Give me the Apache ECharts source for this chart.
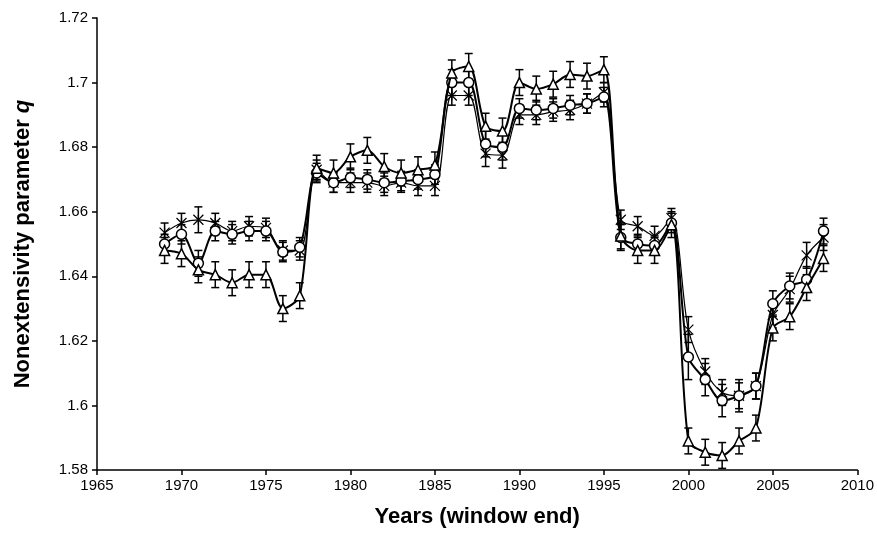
<!DOCTYPE html>
<html>
<head>
<meta charset="utf-8">
<script src="https://cdn.jsdelivr.net/npm/echarts@6/dist/echarts.min.js"></script>
<style>
  html, body { margin: 0; padding: 0; background: #fff; }
  #chart { width: 877px; height: 535px; }
</style>
</head>
<body>
<div id="chart"></div>
<script>
// window end years
const years = [1969, 1970, 1971, 1972, 1973, 1974, 1975, 1976, 1977, 1978,
  1979, 1980, 1981, 1982, 1983, 1984, 1985, 1986, 1987, 1988,
  1989, 1990, 1991, 1992, 1993, 1994, 1995, 1996, 1997, 1998,
  1999, 2000, 2001, 2002, 2003, 2004, 2005, 2006, 2007, 2008];

// circles
const qCircle = [1.650, 1.653, 1.644, 1.654, 1.653, 1.654, 1.654, 1.6475, 1.649, 1.672,
  1.669, 1.6705, 1.670, 1.669, 1.6695, 1.670, 1.6715, 1.700, 1.700, 1.681,
  1.680, 1.692, 1.6915, 1.692, 1.693, 1.6935, 1.6955, 1.652, 1.650, 1.6495,
  1.6565, 1.615, 1.608, 1.6015, 1.603, 1.606, 1.6315, 1.637, 1.639, 1.654];
const errCircle = [0.003, 0.003, 0.004, 0.003, 0.003, 0.003, 0.003, 0.003, 0.003, 0.003,
  0.003, 0.003, 0.003, 0.003, 0.003, 0.003, 0.003, 0.004, 0.004, 0.004,
  0.004, 0.003, 0.003, 0.003, 0.003, 0.003, 0.003, 0.004, 0.003, 0.003,
  0.003, 0.007, 0.005, 0.005, 0.005, 0.004, 0.004, 0.004, 0.004, 0.004];

// triangles
const qTriangle = [1.648, 1.647, 1.642, 1.6405, 1.638, 1.6405, 1.6405, 1.630, 1.634, 1.6735,
  1.672, 1.677, 1.679, 1.674, 1.672, 1.673, 1.6745, 1.703, 1.705, 1.6865,
  1.685, 1.700, 1.698, 1.6995, 1.7025, 1.702, 1.704, 1.6525, 1.648, 1.648,
  1.656, 1.589, 1.5855, 1.5845, 1.589, 1.593, 1.624, 1.6275, 1.6365, 1.6455];
const errTriangle = [0.004, 0.004, 0.004, 0.004, 0.004, 0.004, 0.004, 0.004, 0.004, 0.004,
  0.004, 0.004, 0.004, 0.004, 0.004, 0.004, 0.004, 0.004, 0.004, 0.004,
  0.004, 0.004, 0.004, 0.004, 0.004, 0.004, 0.004, 0.004, 0.004, 0.004,
  0.004, 0.004, 0.004, 0.004, 0.004, 0.004, 0.004, 0.004, 0.004, 0.004];

// crosses
const qCross = [1.6535, 1.6565, 1.6575, 1.6565, 1.654, 1.6555, 1.655, 1.648, 1.648, 1.673,
  1.669, 1.669, 1.669, 1.668, 1.669, 1.668, 1.668, 1.696, 1.696, 1.678,
  1.6775, 1.690, 1.690, 1.691, 1.6915, 1.6935, 1.697, 1.6575, 1.6555, 1.6525,
  1.658, 1.6235, 1.6105, 1.604, 1.603, 1.606, 1.628, 1.636, 1.6465, 1.652];
const errCross = [0.003, 0.003, 0.004, 0.003, 0.003, 0.003, 0.003, 0.003, 0.003, 0.003,
  0.003, 0.003, 0.003, 0.003, 0.003, 0.003, 0.003, 0.003, 0.003, 0.004,
  0.004, 0.003, 0.003, 0.003, 0.003, 0.003, 0.003, 0.003, 0.003, 0.003,
  0.003, 0.004, 0.004, 0.004, 0.004, 0.004, 0.004, 0.004, 0.004, 0.004];

const crossPath = 'path://M0,0L10,10M10,0L0,10M5,0L5,10';

function pairs(vals) {
  return years.map((y, i) => [y, vals[i]]);
}
function bars(vals, errs) {
  return years.map((y, i) => [y, vals[i] - errs[i], vals[i] + errs[i]]);
}

function errorRender(params, api) {
  const lo = api.coord([api.value(0), api.value(1)]);
  const hi = api.coord([api.value(0), api.value(2)]);
  const cap = 4;
  const st = { stroke: '#000', lineWidth: 1.5 };
  return {
    type: 'group',
    children: [
      { type: 'line', shape: { x1: lo[0], y1: lo[1], x2: hi[0], y2: hi[1] }, style: st },
      { type: 'line', shape: { x1: lo[0] - cap, y1: lo[1], x2: lo[0] + cap, y2: lo[1] }, style: st },
      { type: 'line', shape: { x1: hi[0] - cap, y1: hi[1], x2: hi[0] + cap, y2: hi[1] }, style: st }
    ]
  };
}

function errSeries(vals, errs) {
  return {
    type: 'custom',
    renderItem: errorRender,
    data: bars(vals, errs),
    encode: { x: 0, y: [1, 2] },
    z: 1,
    silent: true
  };
}

const chart = echarts.init(document.getElementById('chart'));
chart.setOption({
  animation: false,
  textStyle: { fontFamily: 'Liberation Sans, Arial, sans-serif' },
  grid: { left: 97, right: 14, top: 18, bottom: 65 },
  xAxis: {
    type: 'value',
    min: 1965, max: 2010, interval: 5,
    name: 'Years (window end)',
    nameLocation: 'middle',
    nameGap: 36,
    nameTextStyle: { fontSize: 22, fontWeight: 'bold', color: '#000' },
    axisLine: { lineStyle: { color: '#000', width: 1.5 } },
    axisTick: { length: 5, lineStyle: { color: '#000', width: 1.5 } },
    axisLabel: { color: '#000', fontSize: 15, margin: 8, formatter: v => String(v) },
    splitLine: { show: false }
  },
  yAxis: {
    type: 'value',
    min: 1.58, max: 1.72, interval: 0.02,
    name: '{n|Nonextensivity parameter }{q|q}',
    nameLocation: 'middle',
    nameGap: 63,
    nameTextStyle: {
      rich: {
        n: { fontSize: 22, fontWeight: 'bold', color: '#000' },
        q: { fontSize: 22, fontWeight: 'bold', fontStyle: 'italic', color: '#000' }
      }
    },
    axisLine: { show: true, lineStyle: { color: '#000', width: 1.5 } },
    axisTick: { show: true, length: 5, lineStyle: { color: '#000', width: 1.5 } },
    axisLabel: { color: '#000', fontSize: 15, margin: 9 },
    splitLine: { show: false }
  },
  series: [
    errSeries(qCross, errCross),
    errSeries(qCircle, errCircle),
    errSeries(qTriangle, errTriangle),
    {
      type: 'line',
      data: pairs(qCross),
      smooth: 0.3,
      symbol: crossPath,
      symbolSize: 10,
      z: 3,
      lineStyle: { color: '#000', width: 1.2 },
      itemStyle: { color: 'rgba(0,0,0,0)', borderColor: '#000', borderWidth: 1.2 }
    },
    {
      type: 'line',
      data: pairs(qCircle),
      smooth: 0.3,
      symbol: 'circle',
      symbolSize: 10,
      z: 4,
      lineStyle: { color: '#000', width: 2 },
      itemStyle: { color: '#fff', borderColor: '#000', borderWidth: 1.5 }
    },
    {
      type: 'line',
      data: pairs(qTriangle),
      smooth: 0.3,
      symbol: 'triangle',
      symbolSize: 10,
      z: 5,
      lineStyle: { color: '#000', width: 2 },
      itemStyle: { color: '#fff', borderColor: '#000', borderWidth: 1.5 }
    }
  ]
});
window.addEventListener('resize', function () {
  chart.resize();
});
</script>
</body>
</html>
